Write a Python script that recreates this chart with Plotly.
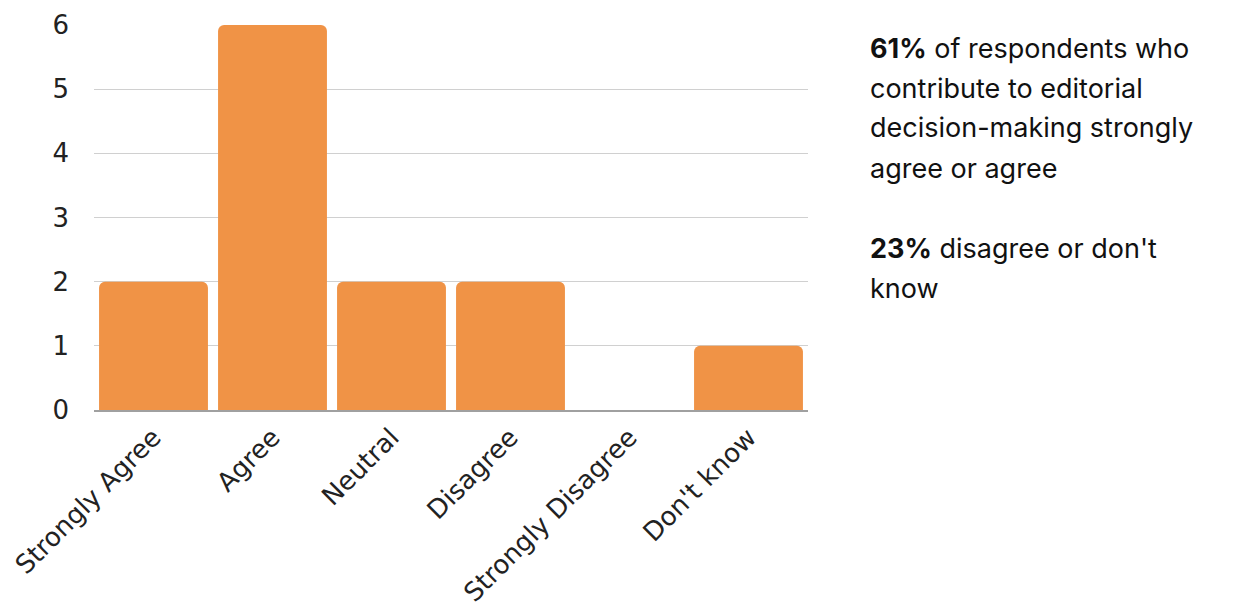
import plotly.graph_objects as go

categories = ["Strongly Agree", "Agree", "Neutral", "Disagree", "Strongly Disagree", "Don't know"]
counts = [2, 6, 2, 2, 0, 1]
y_ticks = [0, 1, 2, 3, 4, 5, 6]

note_lines = [
    "<b>61%</b> of respondents who",
    "contribute to editorial",
    "decision-making strongly",
    "agree or agree",
    "",
    "<b>23%</b> disagree or don't",
    "know",
]

W, H = 1225, 607  # page body has an 8px margin
plot_left, plot_right, plot_top, plot_bottom = 94, 808, 25, 410
off = 8

fig = go.Figure()
fig.add_trace(go.Bar(
    x=categories, y=counts,
    marker=dict(color="#F09346", cornerradius=6, line=dict(width=0)),
    hoverinfo="x+y",
))

for i, line in enumerate(note_lines):
    if not line:
        continue
    py = 48 + i * 40
    fig.add_annotation(
        text=line, xref="paper", yref="paper",
        x=(868 - plot_left) / (plot_right - plot_left),
        y=(plot_bottom - py) / (plot_bottom - plot_top),
        xanchor="left", yanchor="middle", showarrow=False, align="left",
        font=dict(family="Inter", size=27, color="#111111"),
    )

fig.update_layout(
    width=W, height=H,
    margin=dict(l=plot_left - off, r=W + off - plot_right, t=plot_top - off,
                b=H + off - plot_bottom, autoexpand=False),
    paper_bgcolor="white", plot_bgcolor="white",
    bargap=0.085,
    showlegend=False,
    font=dict(family="DejaVu Sans", color="#222222"),
)
fig.update_xaxes(
    tickangle=-45, tickfont=dict(size=26, color="#222222"),
    showgrid=False, showline=True, linecolor="#a0a0a0", linewidth=1.5,
    ticks="", fixedrange=True, automargin=False,
)
fig.update_yaxes(
    range=[0, 6], tickvals=y_ticks, tickfont=dict(size=26, color="#222222"),
    showgrid=True, gridcolor="#d0d0d0", gridwidth=1,
    zeroline=False, ticklabelstandoff=24, fixedrange=True, automargin=False,
)

fig.write_html("out.html")
